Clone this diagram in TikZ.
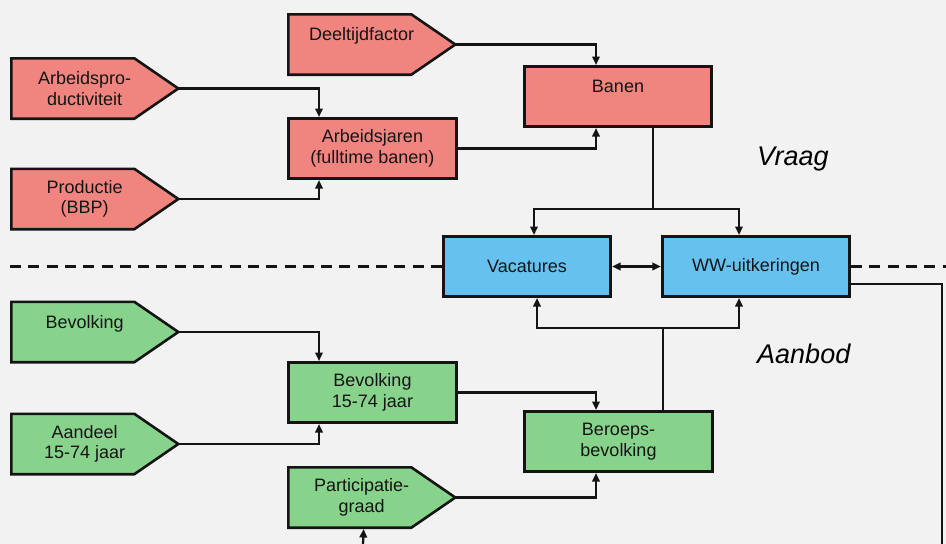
\documentclass[tikz,border=0pt]{standalone}
\usepackage{fontspec}
\setmainfont{Liberation Sans}
\usetikzlibrary{arrows.meta,backgrounds}
\definecolor{bgc}{HTML}{F2F2F2}
\definecolor{redf}{HTML}{F08580}
\definecolor{greenf}{HTML}{88D38C}
\definecolor{bluef}{HTML}{66C1EF}
\definecolor{edge}{HTML}{141414}
\begin{document}
\begin{tikzpicture}[x=1pt,y=-1pt,
  txt/.style={font=\fontsize{18}{20.5}\selectfont, align=center, text=edge},
  box/.style={txt, draw=edge, line width=2.6pt, minimum height=60.4pt, inner sep=0pt},
  ptext/.style={txt, anchor=west, minimum width=146.7pt, minimum height=60.4pt, inner sep=0pt, outer sep=0pt},
  pent/.style={draw=edge, line width=2.6pt, line join=miter},
  conn/.style={draw=edge, line width=2.3pt},
  arr/.style={conn, -{Triangle[length=8.5pt,width=7.5pt]}},
  dbl/.style={conn, {Triangle[length=8.5pt,width=7.5pt]}-{Triangle[length=8.5pt,width=7.5pt]}},
  sep/.style={draw=edge, line width=2.5pt, dash pattern=on 11pt off 7.3pt},
  side/.style={font=\fontsize{27}{32}\selectfont\itshape, anchor=base west, inner sep=0pt, text=black}
]
\useasboundingbox (0,0) rectangle (946,544);
\begin{scope}[on background layer]
  \fill[bgc] (0,0) rectangle (946,544);
\end{scope}

% rectangular boxes
\node[box, fill=redf, minimum width=187.5pt] (banen) at (618,96.5) {Banen\\\mbox{}};
\node[box, fill=redf, minimum width=168.5pt] (aj) at (372.5,148.5) {Arbeidsjaren\\(fulltime banen)};
\node[box, fill=bluef, minimum width=167.5pt] (vac) at (527,266.5) {Vacatures};
\node[box, fill=bluef, minimum width=187.5pt] (ww) at (756,266.5) {WW-uitkeringen};
\node[box, fill=greenf, minimum width=168.5pt] (b15) at (372.5,392.5) {Bevolking\\15-74 jaar};
\node[box, fill=greenf, minimum width=188.5pt] (bb) at (618.5,441.5) {Beroeps-\\bevolking};

% pentagon texts
\node[ptext] (dt) at (288.3,44.5) {Deeltijdfactor\\\mbox{}};
\node[ptext] (ap) at (11.3,88.5) {Arbeidspro-\\ductiviteit};
\node[ptext] (pr) at (11.3,199) {Productie\\(BBP)};
\node[ptext] (bv) at (11.3,332) {Bevolking\\\mbox{}};
\node[ptext] (ad) at (11.3,444) {Aandeel\\15-74 jaar};
\node[ptext] (pg) at (288.3,497.5) {Participatie-\\graad};

% pentagon outlines
\begin{scope}[on background layer]
  \foreach \n/\c in {dt/redf,ap/redf,pr/redf,bv/greenf,ad/greenf,pg/greenf}{
    \draw[pent, fill=\c] (\n.north west) -- ([xshift=123pt]\n.north west)
      -- ([xshift=167pt]\n.west) -- ([xshift=123pt]\n.south west)
      -- (\n.south west) -- cycle;
  }
\end{scope}
\foreach \n in {dt,ap,pr,bv,ad,pg}{
  \coordinate (\n-tip) at ([xshift=167pt]\n.west);
}

% side labels
\node[side] (vraag) at (757,165) {Vraag};
\node[side] (aanbod) at (757,363) {Aanbod};

% separator
\draw[sep] (10,266.5) -- (vac.west);
\draw[sep] (ww.east) -- (946,266.5);

% demand side connectors
\draw[arr] (dt-tip) -| ([xshift=-22pt]banen.north);
\draw[arr] (aj.east) -| ([xshift=-22pt]banen.south);
\draw[arr] (ap-tip) -| ([xshift=-53.5pt]aj.north);
\draw[arr] (pr-tip) -| ([xshift=-53.5pt]aj.south);

\coordinate (s1) at (653,209);
\draw[conn] ([xshift=35pt]banen.south) -- (s1);
\draw[arr] (s1) -| ([xshift=7pt]vac.north);
\draw[arr] (s1) -| ([xshift=-17pt]ww.north);

\draw[dbl] (vac) -- (ww);

% supply side connectors
\draw[arr] (bv-tip) -| ([xshift=-53.5pt]b15.north);
\draw[arr] (ad-tip) -| ([xshift=-53.5pt]b15.south);
\draw[arr] (b15.east) -| ([xshift=-22.5pt]bb.north);
\draw[arr] (pg-tip) -| ([xshift=-22.5pt]bb.south);

\coordinate (s2) at (663,328);
\draw[conn] ([xshift=44.5pt]bb.north) -- (s2);
\draw[arr] (s2) -| ([xshift=10pt]vac.south);
\draw[arr] (s2) -| ([xshift=-17pt]ww.south);

\coordinate (br) at (942,544);
\draw[conn] ([yshift=-17.5pt]ww.east) -| (br);
\coordinate (bp) at (363,544);
\draw[arr] (bp) -- ([xshift=2pt,yshift=-1.3pt]pg.south);
\end{tikzpicture}
\end{document}
